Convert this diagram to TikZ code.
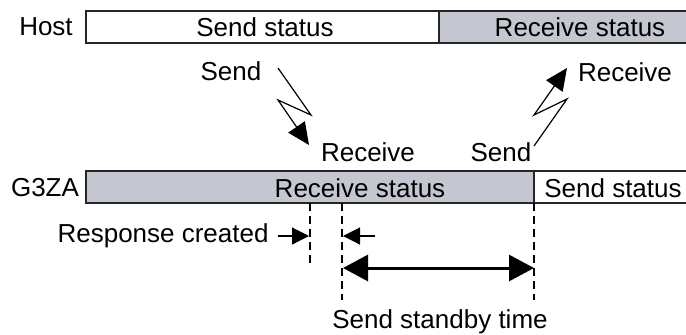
\documentclass[tikz,border=0pt]{standalone}
\usepackage{fontspec}
\setmainfont{Liberation Sans}
\usepackage{tikz}
\usetikzlibrary{arrows.meta}
\definecolor{bargray}{RGB}{196,199,207}
\tikzset{
  barline/.style  = {line width=1pt,black!85},
  lbl/.style      = {font=\fontsize{13}{15}\selectfont,inner sep=0pt},
  zigarr/.style   = {-{Triangle[length=11pt,width=10pt]},line width=0.6pt},
  smallarr/.style = {-{Triangle[length=8.5pt,width=8.5pt]},line width=0.6pt},
  spanarr/.style  = {{Triangle[length=12.5pt,width=13pt]}-{Triangle[length=12.5pt,width=13pt]},line width=1.5pt},
  markline/.style = {dashed,dash pattern=on 4pt off 2.5pt,line width=0.7pt}
}

\begin{document}
\begin{tikzpicture}[x=0.5pt,y=-0.5pt]
  \useasboundingbox (0,0) rectangle (686,334);
  % host bar
  \fill[bargray] (439,11) rectangle (690,43);
  \draw[barline] (690,11) -- (86,11) -- (86,43) -- (690,43);
  \draw[barline] (439,11) -- (439,43);
  \node[lbl] (host) at (46,27) {Host};
  \node[lbl] (hsend) at (265,27) {Send status};
  \node[lbl] (hrecv) at (580,27) {Receive status};
  % G3ZA bar
  \fill[bargray] (86,171) rectangle (534,203);
  \draw[barline] (690,171) -- (86,171) -- (86,203) -- (690,203);
  \draw[barline] (534,171) -- (534,203);
  \node[lbl] (dev) at (45,188) {G3ZA};
  \node[lbl] (drecv) at (360,188) {Receive status};
  \node[lbl] (dsend) at (613,188) {Send status};
  % messages
  \node[lbl] (send1) at (231,71) {Send};
  \node[lbl] (recv1) at (368,152) {Receive};
  \node[lbl] (send2) at (501,152) {Send};
  \node[lbl] (recv2) at (625,72) {Receive};
  \coordinate (a0) at (278,68);  \coordinate (a1) at (311,115);
  \coordinate (a2) at (278,100); \coordinate (a3) at (309,145);
  \coordinate (b0) at (534,146); \coordinate (b1) at (567,99);
  \coordinate (b2) at (534,115); \coordinate (b3) at (567,68);
  \draw[zigarr] (a0) -- (a1) -- (a2) -- (a3);
  \draw[zigarr] (b0) -- (b1) -- (b2) -- (b3);
  % timing marks
  \coordinate (m1t) at (310,203); \coordinate (m1b) at (310,267);
  \coordinate (m2t) at (342,203); \coordinate (m2b) at (342,300);
  \coordinate (m3t) at (534,203); \coordinate (m3b) at (534,300);
  \foreach \m in {1,2,3} { \draw[markline] (m\m t) -- (m\m b); }
  \node[lbl,anchor=east] (resp) at (269,236) {Response created};
  \coordinate (r0) at (278,236); \coordinate (r1) at (309,236);
  \coordinate (l0) at (375,236); \coordinate (l1) at (343,236);
  \draw[smallarr] (r0) -- (r1);
  \draw[smallarr] (l0) -- (l1);
  \coordinate (w0) at (343,268); \coordinate (w1) at (534,268);
  \draw[spanarr] (w0) -- (w1);
  \node[lbl] (wait) at (440,322) {Send standby time};
\end{tikzpicture}
\end{document}
